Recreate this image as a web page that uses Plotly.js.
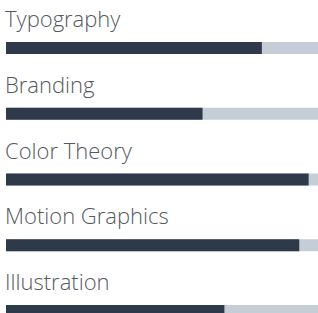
<!DOCTYPE html>
<html><head><meta charset="utf-8">
<script src="https://cdn.plot.ly/plotly-3.0.1.min.js"></script>
<style>html,body{margin:0;padding:0;background:#fff;}#c{width:318px;height:313px;}</style>
</head><body><div id="c"></div>
<script>
const skills = ["Typography", "Branding", "Color Theory", "Motion Graphics", "Illustration"];
const levels = [82, 63, 97, 94, 70];
const maxLevel = [100, 100, 100, 100, 100];

const track = {type:'bar', orientation:'h', y:skills, x:maxLevel, width:0.185,
  marker:{color:'#c5ced6'}, hoverinfo:'skip'};
const fill = {type:'bar', orientation:'h', y:skills, x:levels, width:0.185,
  marker:{color:'#2e394a'}, hoverinfo:'skip'};

const annotations = skills.map(s => ({
  x:0, y:s, xref:'x', yref:'y', text:s, showarrow:false,
  xanchor:'left', yanchor:'middle', yshift:30, xshift:-3,
  font:{family:'"Open Sans", Lato, sans-serif', size:22, weight:300, color:'#55595f'}
}));

Plotly.newPlot('c', [track, fill], {
  width:318, height:313, margin:{l:0,r:0,t:0,b:0},
  barmode:'overlay', showlegend:false,
  paper_bgcolor:'#fff', plot_bgcolor:'#fff',
  xaxis:{range:[-1.923,100], visible:false, fixedrange:true},
  yaxis:{type:'category', categoryorder:'array', categoryarray:skills,
    range:[4.03,-0.73], visible:false, fixedrange:true},
  annotations
}, {displayModeBar:false, staticPlot:true});
</script></body></html>
